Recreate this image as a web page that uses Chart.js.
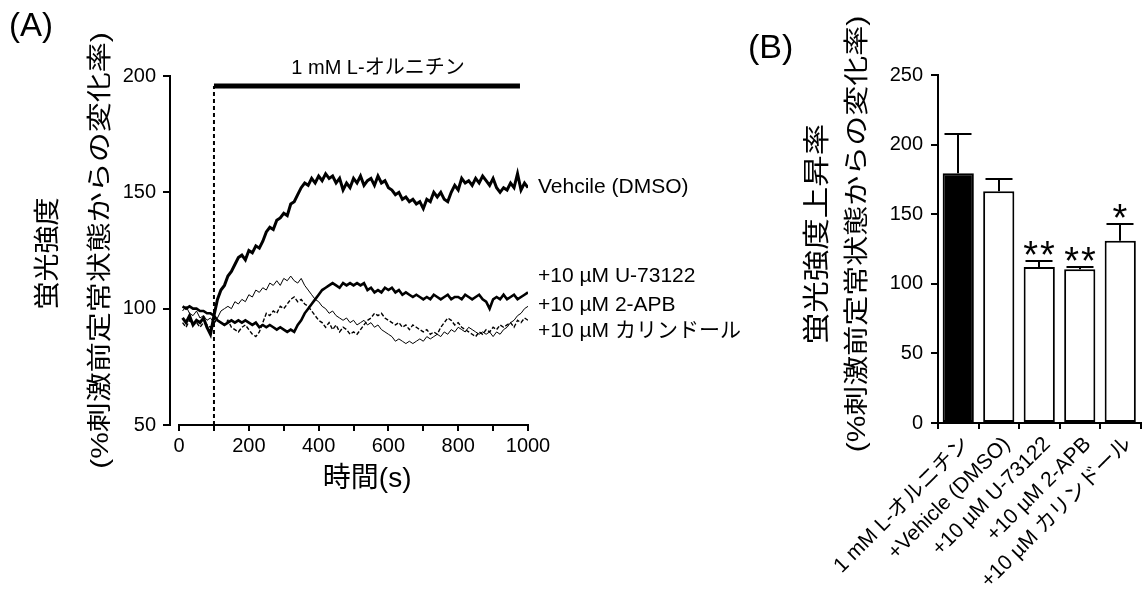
<!DOCTYPE html>
<html><head><meta charset="utf-8">
<script src="https://cdn.jsdelivr.net/npm/chart.js@4.4.1/dist/chart.umd.min.js"></script>
<style>
html,body{margin:0;padding:0;background:#fff;overflow:hidden;width:1142px;height:591px;}
#wa{position:absolute;left:0;top:0;width:780px;height:591px;}
#wb{position:absolute;left:740px;top:0;width:420px;height:591px;}
</style></head><body>
<div id="wa"><canvas id="ca" width="780" height="591"></canvas></div>
<div id="wb"><canvas id="cb" width="420" height="591"></canvas></div>
<script>
const FONT = "'Liberation Sans', 'Noto Sans CJK JP', Arial, sans-serif";

// ---------- Panel A data ----------
const timeSec = [10,20,30,40,50,60,70,80,90,100,110,120,130,140,150,160,170,180,190,200,
210,220,230,240,250,260,270,280,290,300,310,320,330,340,350,360,370,380,390,400,
410,420,430,440,450,460,470,480,490,500,510,520,530,540,550,560,570,580,590,600,
610,620,630,640,650,660,670,680,690,700,710,720,730,740,750,760,770,780,790,800,
810,820,830,840,850,860,870,880,890,900,910,920,930,940,950,960,970,980,990,1000];
const vehicle = [96,94,97,93,95,94,96,92,89,97,
104,108,110,114,116,119,122,123,121,125,
124,127,126,129,133,135,134,138,139,141,
140,145,146,149,152,154,153,156,154,157,
155,158,156,157,154,156,151,154,152,156,
154,157,153,155,156,153,157,154,155,152,
151,149,150,147,148,146,147,145,146,143,
147,146,150,148,150,147,146,150,153,151,
156,154,155,153,156,154,157,155,153,156,
152,150,152,151,154,152,158,151,154,152];
const u73122 = [101,100,101,100,100,99,99,98,98,97,
95,94,93,94,95,94,95,94,95,94,
93,94,92,93,92,93,92,91,92,91,
90,91,90,93,95,98,100,102,104,106,
108,109,110,111,110,109,111,110,111,110,
111,110,111,108,109,107,108,107,109,108,
109,107,108,106,107,106,105,106,105,104,
105,104,106,105,104,105,106,104,105,105,
104,106,105,104,105,106,104,103,100,104,
105,104,106,104,105,106,104,105,106,107];
const apb2 = [99,101,98,97,99,96,97,95,96,94,
96,99,100,101,100,103,102,104,103,106,
105,108,107,109,108,111,110,112,110,113,
112,114,112,111,113,110,108,106,104,103,
101,100,98,99,97,96,95,96,94,95,
93,94,95,93,94,92,93,91,90,89,
88,86,87,86,85,86,85,86,87,86,
88,87,88,89,88,90,89,91,90,92,
91,90,92,91,90,89,90,89,90,88,
90,89,91,92,94,95,97,98,100,101];
const calindol = [94,92,95,93,94,92,94,93,92,94,
95,94,93,95,92,91,90,92,93,91,
89,88,90,94,98,97,99,98,101,100,
102,104,105,103,104,102,101,99,97,95,
94,92,94,91,93,90,92,91,89,90,
89,91,93,95,96,98,97,98,96,95,
94,93,94,92,93,91,93,92,91,90,
91,89,90,89,92,94,96,95,93,94,
92,91,90,89,88,90,89,91,90,92,
91,93,92,93,94,92,95,94,96,95];
const seriesLabels = ['Vehcile (DMSO)', '+10 µM U-73122', '+10 µM 2-APB', '+10 µM カリンドール'];
const stimLabel = '1 mM L-オルニチン';
const stimStart = 100;
const stimEnd = 977;
const stimLevel = 195.7;
const xTicksA = [0,100,200,300,400,500,600,700,800,900,1000];
const yTicksA = [50,100,150,200];
const xTitleA = '時間(s)';
const yTitleA = ['蛍光強度', '(%刺激前定常状態からの変化率)'];

// ---------- Panel B data ----------
const barCategories = ['1 mM L-オルニチン', '+Vehicle (DMSO)', '+10 µM U-73122', '+10 µM 2-APB', '+10 µM カリンドール'];
const barMeans = [179.5, 166.5, 112, 110.5, 131];
const barSEM = [28, 9, 4.5, 1.7, 12];
const barStars = ['', '', '**', '**', '*'];
const yTitleB = ['蛍光強度上昇率', '(%刺激前定常状態からの変化率)'];

Chart.defaults.font.family = FONT;
Chart.defaults.color = '#000';

const pts = arr => arr.map((v, i) => ({x: timeSec[i], y: v}));
const labelLevels = [152.4, 113.8, 101.6, 90.1];

function vText(ctx, t, cx, cy, size, squeeze) {
  ctx.save();
  ctx.translate(cx, cy);
  ctx.rotate(-Math.PI / 2);
  ctx.scale(1, squeeze);
  ctx.font = size + 'px ' + FONT;
  ctx.fillStyle = '#000';
  ctx.textAlign = 'center';
  ctx.textBaseline = 'middle';
  ctx.fillText(t, 0, 0);
  ctx.restore();
}

const plugA = {
  id: 'annA',
  afterDraw(chart) {
    const {ctx, chartArea, scales: {x, y}} = chart;
    ctx.save();
    ctx.strokeStyle = '#000';
    ctx.lineWidth = 2;
    const yb = Math.round(y.getPixelForValue(yTicksA[0]));
    ctx.beginPath();
    ctx.moveTo(Math.round(x.getPixelForValue(0)) - 1, yb);
    ctx.lineTo(Math.round(x.getPixelForValue(1000)) + 1, yb);
    ctx.stroke();
    ctx.fillStyle = '#000';
    ctx.textBaseline = 'middle';
    ctx.textAlign = 'left';
    ctx.font = '21px ' + FONT;
    const lx = x.getPixelForValue(1000) + 10;
    seriesLabels.forEach((t, i) => ctx.fillText(t, lx, y.getPixelForValue(labelLevels[i])));
    ctx.textAlign = 'center';
    ctx.font = '20px ' + FONT;
    ctx.fillText(stimLabel, x.getPixelForValue(570), y.getPixelForValue(203.4));
    ctx.font = '28px ' + FONT;
    ctx.fillText(xTitleA, x.getPixelForValue(539), yb + 54);
    ctx.textAlign = 'left';
    ctx.font = '33px ' + FONT;
    ctx.fillText('(A)', 9, 27);
    ctx.restore();
    const cy = (chartArea.top + chartArea.bottom) / 2;
    vText(ctx, yTitleA[0], chartArea.left - 121, cy + 3, 28, 0.95);
    vText(ctx, yTitleA[1], chartArea.left - 69, cy, 30, 0.82);
  }
};

new Chart(document.getElementById('ca'), {
  type: 'line',
  data: {
    datasets: [
      {data: pts(vehicle), borderColor: '#000', borderWidth: 3, pointRadius: 0, tension: 0, fill: false},
      {data: pts(u73122), borderColor: '#000', borderWidth: 2.6, pointRadius: 0, tension: 0, fill: false},
      {data: pts(apb2), borderColor: '#000', borderWidth: 1, pointRadius: 0, tension: 0, fill: false},
      {data: pts(calindol), borderColor: '#000', borderWidth: 1.4, borderDash: [4, 2], pointRadius: 0, tension: 0, fill: false},
      {data: [{x: stimStart, y: stimLevel}, {x: stimEnd, y: stimLevel}], borderColor: '#000', borderWidth: 5, borderCapStyle: 'butt', pointRadius: 0, fill: false},
      {data: [{x: stimStart, y: yTicksA[0]}, {x: stimStart, y: stimLevel}], borderColor: '#000', borderWidth: 2, borderDash: [4, 3], pointRadius: 0, fill: false}
    ]
  },
  options: {
    responsive: false, animation: false, events: [],
    layout: {padding: {left: 0, top: 76, right: 252, bottom: 0}},
    plugins: {legend: {display: false}, tooltip: {enabled: false}},
    scales: {
      x: {
        type: 'linear', min: -26, max: 1000,
        afterBuildTicks: s => { s.ticks = xTicksA.map(v => ({value: v})); },
        afterFit: s => { s.height = 166; },
        ticks: {autoSkip: false, maxRotation: 0, font: {size: 20}, color: '#000', padding: 3,
                callback: v => (v % 200 === 0 ? String(v) : '')},
        grid: {display: true, drawOnChartArea: false, drawTicks: true, tickLength: 6, color: '#000', lineWidth: 2},
        border: {display: false}
      },
      y: {
        type: 'linear', min: 50, max: 200,
        afterBuildTicks: s => { s.ticks = yTicksA.map(v => ({value: v})); },
        afterFit: s => { s.width = 170; },
        ticks: {font: {size: 20}, color: '#000', padding: 7},
        grid: {drawOnChartArea: false, tickLength: 7, color: '#000', lineWidth: 2},
        border: {display: true, color: '#000', width: 2}
      }
    }
  },
  plugins: [plugA]
});

const plugB = {
  id: 'annB',
  afterDatasetsDraw(chart) {
    const {ctx, scales: {y}} = chart;
    const meta = chart.getDatasetMeta(0);
    ctx.save();
    ctx.strokeStyle = '#000';
    ctx.fillStyle = '#000';
    ctx.lineWidth = 2;
    meta.data.forEach((bar, i) => {
      const x0 = Math.round(bar.x);
      const yt = Math.round(y.getPixelForValue(barMeans[i] + barSEM[i]));
      const yb = y.getPixelForValue(barMeans[i]);
      ctx.beginPath();
      ctx.moveTo(x0, yb); ctx.lineTo(x0, yt);
      ctx.moveTo(x0 - 13.5, yt); ctx.lineTo(x0 + 13.5, yt);
      ctx.stroke();
      if (barStars[i]) {
        const fs = 38;
        ctx.font = fs + 'px ' + FONT;
        ctx.letterSpacing = '2px';
        ctx.textAlign = 'center';
        ctx.textBaseline = 'alphabetic';
        ctx.fillText(barStars[i], x0 + 1, yt - 15 + 0.57 * fs);
      }
    });
    ctx.restore();
  },
  afterDraw(chart) {
    const {ctx, chartArea, scales: {y}} = chart;
    const cy = y.getPixelForValue(125) - 15;
    vText(ctx, yTitleB[0], chartArea.left - 119, cy, 31.5, 0.85);
    vText(ctx, yTitleB[1], chartArea.left - 80, cy, 30, 0.85);
    ctx.save();
    ctx.fillStyle = '#000';
    ctx.font = '34px ' + FONT;
    ctx.textAlign = 'left';
    ctx.textBaseline = 'middle';
    ctx.fillText('(B)', 8, 49);
    ctx.restore();
  }
};

new Chart(document.getElementById('cb'), {
  type: 'bar',
  data: {
    labels: barCategories,
    datasets: [{
      data: barMeans,
      backgroundColor: c => (c.dataIndex === 0 ? '#000' : '#fff'),
      borderColor: '#000', borderWidth: 2, borderSkipped: false,
      barPercentage: 0.77, categoryPercentage: 1
    }]
  },
  options: {
    responsive: false, animation: false, events: [],
    layout: {padding: {left: 0, top: 75, right: 19.5, bottom: 0}},
    plugins: {legend: {display: false}, tooltip: {enabled: false}},
    scales: {
      x: {
        offset: true,
        afterFit: s => { s.height = 168; },
        ticks: {autoSkip: false, minRotation: 45, maxRotation: 45, font: {size: 21}, color: '#000', padding: 3, labelOffset: 8},
        grid: {offset: true, drawOnChartArea: false, tickLength: 6, color: '#000', lineWidth: 2},
        border: {display: true, color: '#000', width: 2}
      },
      y: {
        min: 0, max: 250,
        afterFit: s => { s.width = 198; },
        ticks: {stepSize: 50, font: {size: 20}, color: '#000', padding: 8},
        grid: {drawOnChartArea: false, tickLength: 7, color: '#000', lineWidth: 2},
        border: {display: true, color: '#000', width: 2}
      }
    }
  },
  plugins: [plugB]
});
</script>
</body></html>
